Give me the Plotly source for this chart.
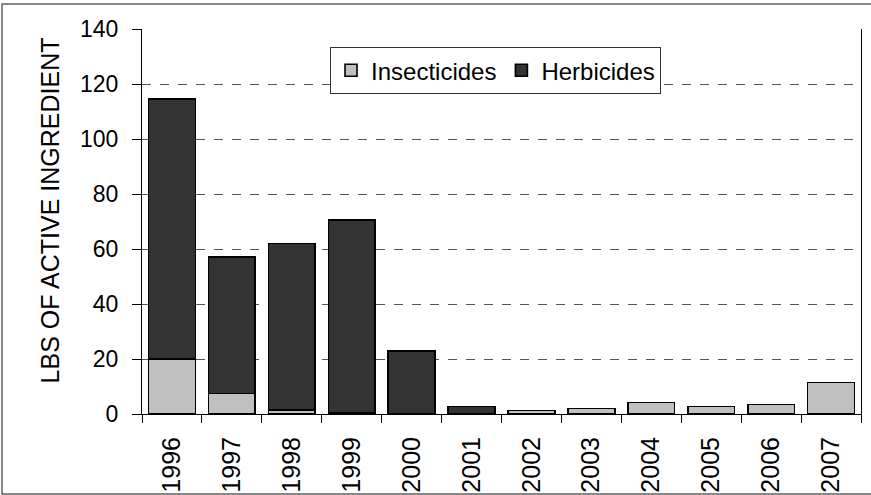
import plotly.graph_objects as go

# Pesticide use, lbs of active ingredient per year
years = ["1996", "1997", "1998", "1999", "2000", "2001",
         "2002", "2003", "2004", "2005", "2006", "2007"]
insecticides = [20, 7.5, 1.5, 0.5, None, None, 1.3, 2.0, 4.2, 2.8, 3.5, 11.4]
herbicides = [94.5, 49.5, 60.5, 70.0, 23.0, 2.8, None, None, None, None, None, None]

FONT = "Liberation Sans, Arial, sans-serif"

fig = go.Figure()
fig.add_trace(go.Bar(
    x=years, y=insecticides, name="Insecticides",
    marker=dict(color="#C0C0C0", line=dict(color="#000000", width=1.6)),
    width=0.78,
))
fig.add_trace(go.Bar(
    x=years, y=herbicides, name="Herbicides",
    marker=dict(color="#333333", line=dict(color="#000000", width=1.6)),
    width=0.78,
))

fig.update_layout(
    width=871, height=495,
    barmode="stack",
    paper_bgcolor="white", plot_bgcolor="white",
    font=dict(family=FONT, size=23, color="#000000"),
    margin=dict(l=142, r=10, t=29, b=81),
    showlegend=True,
    legend=dict(
        orientation="h", x=0.2615, y=0.953, xanchor="left", yanchor="top",
        bgcolor="white", bordercolor="#333333", borderwidth=1,
        font=dict(size=24), traceorder="normal", itemwidth=30,
    ),
    xaxis=dict(
        type="category", tickangle=-90, tickson="boundaries",
        ticks="outside", ticklen=8, tickcolor="#000000",
        tickfont=dict(size=25),
        showline=True, linecolor="#000000", linewidth=1,
        showgrid=False, ticklabelstandoff=12, automargin=False,
    ),
    yaxis=dict(
        range=[0, 140], dtick=20, ticks="outside", ticklen=9,
        tickcolor="#000000", showline=True, linecolor="#000000",
        linewidth=1, mirror=True, zeroline=False,
        showgrid=True, gridcolor="#555555", griddash="dash", gridwidth=1,
        ticklabelstandoff=9, automargin=False,
    ),
    annotations=[dict(
        text="LBS OF ACTIVE INGREDIENT", textangle=-90,
        xref="paper", yref="paper", x=-0.1287, y=0.53,
        xanchor="center", yanchor="middle",
        showarrow=False, font=dict(size=25),
    )],
    shapes=[dict(
        type="rect", xref="paper", yref="paper",
        x0=-0.1947, x1=1.03, y0=-0.2078, y1=1.065,
        line=dict(color="#606060", width=1.5),
    )],
)

fig.write_html("out.html", config={"displayModeBar": False},
               post_script="document.body.style.margin='0';")
